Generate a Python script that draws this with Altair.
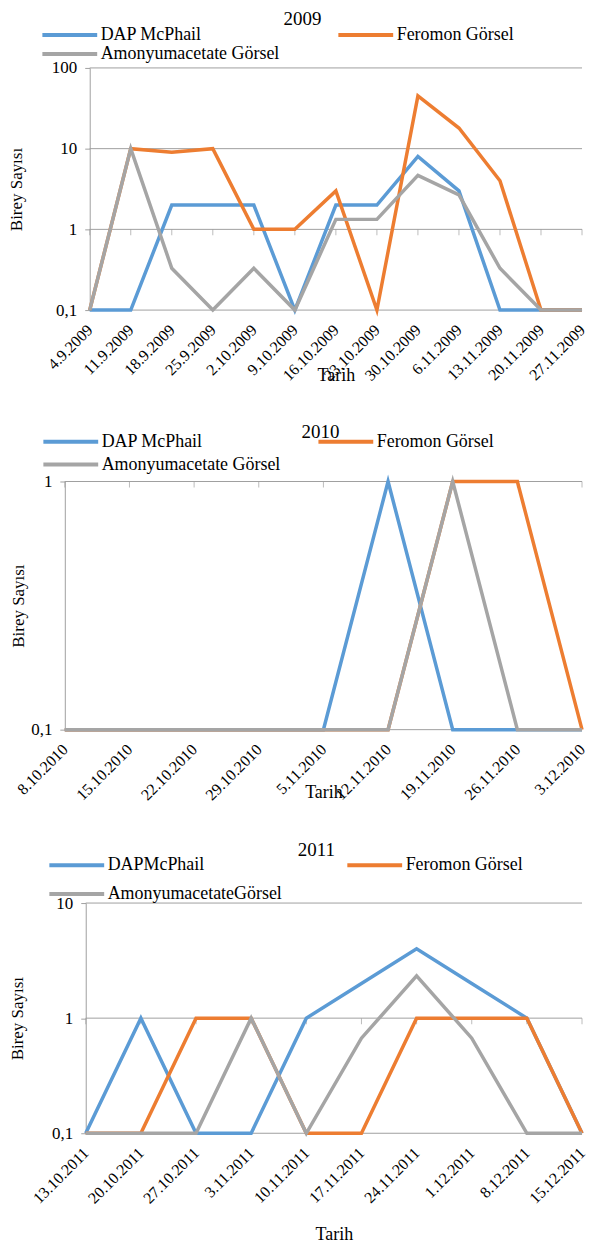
import altair as alt
import pandas as pd

FONT = "Liberation Serif"
GRID = "#A0A0A0"

# series order in the data (drawing order): DAP, Feromon, Amonyumacetate
names_a = ["DAP McPhail", "Feromon Görsel", "Amonyumacetate Görsel"]
names_b = ["DAPMcPhail", "Feromon Görsel", "AmonyumacetateGörsel"]
series_colors = ["#5B9BD5", "#ED7D31", "#A5A5A5"]
# legend order (two columns, filled column-wise): DAP, Amonyum | Feromon
legend_order = [0, 2, 1]

dates_2009 = ["4.9.2009", "11.9.2009", "18.9.2009", "25.9.2009", "2.10.2009",
              "9.10.2009", "16.10.2009", "23.10.2009", "30.10.2009", "6.11.2009",
              "13.11.2009", "20.11.2009", "27.11.2009"]
dap_2009 = [0.1, 0.1, 2, 2, 2, 0.1, 2, 2, 8, 3, 0.1, 0.1, 0.1]
fer_2009 = [0.1, 10, 9, 10, 1, 1, 3, 0.1, 45, 18, 4, 0.1, 0.1]
amo_2009 = [0.1, 10, 0.33, 0.1, 0.33, 0.1, 1.33, 1.33, 4.67, 2.67, 0.33, 0.1, 0.1]

dates_2010 = ["8.10.2010", "15.10.2010", "22.10.2010", "29.10.2010", "5.11.2010",
              "12.11.2010", "19.11.2010", "26.11.2010", "3.12.2010"]
dap_2010 = [0.1, 0.1, 0.1, 0.1, 0.1, 1, 0.1, 0.1, 0.1]
fer_2010 = [0.1, 0.1, 0.1, 0.1, 0.1, 0.1, 1, 1, 0.1]
amo_2010 = [0.1, 0.1, 0.1, 0.1, 0.1, 0.1, 1, 0.1, 0.1]

dates_2011 = ["13.10.2011", "20.10.2011", "27.10.2011", "3.11.2011", "10.11.2011",
              "17.11.2011", "24.11.2011", "1.12.2011", "8.12.2011", "15.12.2011"]
dap_2011 = [0.1, 1, 0.1, 0.1, 1, 2, 4, 2, 1, 0.1]
fer_2011 = [0.1, 0.1, 1, 1, 0.1, 0.1, 1, 1, 1, 0.1]
amo_2011 = [0.1, 0.1, 0.1, 1, 0.1, 0.67, 2.33, 0.67, 0.1, 0.1]

W = 519


def panel(year, dates, series, names, ymax, height, x0, title_x, tarih_y,
          leg_x, leg_y, row_pad, col_pad, t_offset, t_dx):
    rows = []
    for name, vals in zip(names, series):
        for i, (d, v) in enumerate(zip(dates, vals)):
            rows.append({"Tarih": d, "Birey": v, "Seri": name, "idx": i})
    df = pd.DataFrame(rows)
    tdf = pd.DataFrame({"Tarih": dates, "Birey": [1] * len(dates)})
    yvals = [v for v in [0.1, 1, 10, 100] if v <= ymax]
    gdf = pd.DataFrame({"Tarih": [dates[0]] * len(yvals),
                        "Tarih2": [dates[-1]] * len(yvals), "Birey": yvals})

    x = alt.X("Tarih:N",
              scale=alt.Scale(type="point", padding=0, domain=dates, range=[x0, W]),
              axis=alt.Axis(labelAngle=-45, labelAlign="right", labelBaseline="middle",
                            labelFontSize=16, labelPadding=17, domain=False,
                            ticks=False, grid=False, title="Tarih", titleY=tarih_y,
                            titleBaseline="middle", titleFontSize=18,
                            titleFontWeight="normal", labelOverlap=False,
                            labelFont=FONT, titleFont=FONT, labelColor="#000",
                            titleColor="#000"))
    y = alt.Y("Birey:Q",
              scale=alt.Scale(type="log", domain=[0.1, ymax], nice=False),
              axis=alt.Axis(values=yvals, offset=-x0,
                            labelExpr="replace(format(datum.value, '~g'), '.', ',')",
                            labelFontSize=17, labelPadding=8, tickSize=5,
                            tickColor=GRID, domainColor=GRID, grid=False,
                            title="Birey Sayısı", titleX=title_x,
                            titleBaseline="middle", titleFontSize=17,
                            titleFontWeight="normal", labelFont=FONT,
                            titleFont=FONT, labelColor="#000", titleColor="#000"))
    dom = [names[k] for k in legend_order]
    rng = [series_colors[k] for k in legend_order]
    color = alt.Color("Seri:N",
                      scale=alt.Scale(domain=dom, range=rng),
                      legend=alt.Legend(title=None, orient="none", legendX=leg_x,
                                        legendY=leg_y, columns=2,
                                        columnPadding=col_pad, rowPadding=row_pad,
                                        symbolType="M-5,0H5", symbolSize=121,
                                        symbolStrokeWidth=4, labelOffset=22,
                                        labelFontSize=18, labelLimit=400,
                                        labelFont=FONT, labelColor="#000"))
    grid = alt.Chart(gdf).mark_rule(color=GRID, strokeWidth=1).encode(
        x=x, x2="Tarih2", y=y)
    ticks = alt.Chart(tdf).mark_tick(orient="vertical", size=6, thickness=1,
                                     color=GRID, yOffset=3).encode(x=x, y=y)
    lines = alt.Chart(df).mark_line(strokeWidth=3.5).encode(
        x=x, y=y, color=color, order=alt.Order("idx:Q"))
    return alt.layer(grid, ticks, lines).properties(
        width=W, height=height,
        title=alt.TitleParams(text=year, fontSize=19, fontWeight="normal",
                              font=FONT, color="#000",
                              anchor="middle", frame="group", offset=t_offset,
                              dx=t_dx))


p1 = panel("2009", dates_2009, [dap_2009, fer_2009, amo_2009], names_a, 100,
           243, 25, -73, 66, -4, -42, 1, 50, -3, -21)
p2 = panel("2010", dates_2010, [dap_2010, fer_2010, amo_2010], names_a, 1,
           249, 0, -46, 63, -3, -49, 5, 29, -9, -3)
p3 = panel("2011", dates_2011, [dap_2011, fer_2011, amo_2011], names_b, 10,
           231, 21, -68, 102, 3, -47, 11, 57, -4, -7)

chart = alt.vconcat(p1, p2, p3, spacing=38).resolve_scale(
    color="independent", x="independent", y="independent"
).resolve_legend(color="independent").properties(
    padding={"left": 0, "top": 0, "right": 0, "bottom": 0}
).configure(font=FONT).configure_view(stroke=None).configure_axis(
    labelColor="#000", titleColor="#000", labelFont=FONT, titleFont=FONT
).configure_legend(labelColor="#000", labelFont=FONT).configure_title(
    color="#000", font=FONT)

chart.save("out.html", embed_options={"renderer": "svg", "actions": False})
